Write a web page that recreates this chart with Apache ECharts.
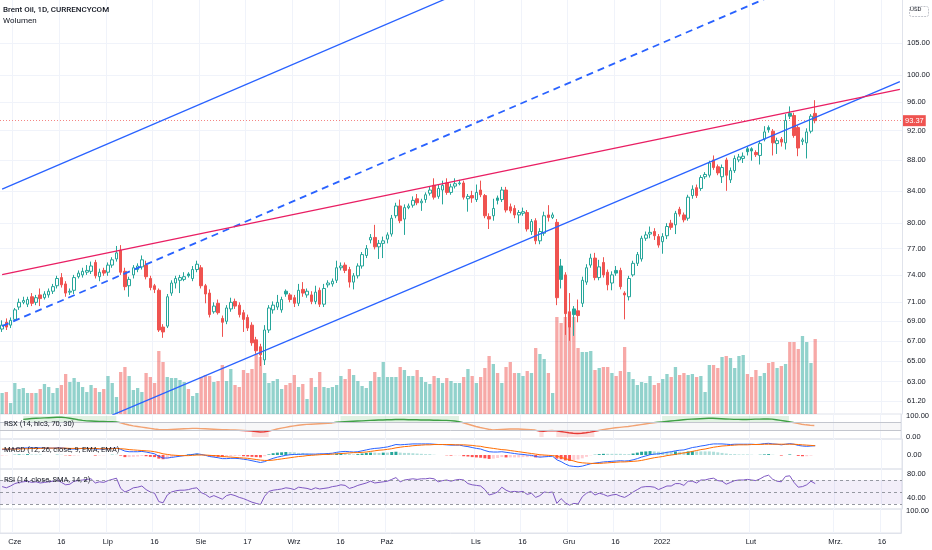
<!DOCTYPE html>
<html><head><meta charset="utf-8">
<script src="https://cdn.jsdelivr.net/npm/echarts@6.0.0/dist/echarts.min.js"></script>
<style>html,body{margin:0;padding:0;background:#fff}#c{width:932px;height:550px}</style>
</head><body><div id="c"></div>
<script>
// ---------- DATA ----------
const firstDay = '2021-05-27';
const skippedDays = ['2021-12-24'];
const categoryCount = 213;

const tickDates = ['2021-06-01','2021-06-16','2021-07-01','2021-07-16','2021-08-02','2021-08-17','2021-09-01','2021-09-16','2021-10-01','2021-11-01','2021-11-16','2021-12-01','2021-12-16','2022-01-03','2022-02-01','2022-03-01','2022-03-16'];
const tickTexts = ['Cze','16','Lip','16','Sie','17','Wrz','16','Paź','Lis','16','Gru','16','2022','Lut','Mrz.','16'];

const priceTicks = [105,100,96,92,88,84,80,77,74,71,69,67,65,63,61.2];
const lastPrice = 93.37;

const opens = [
68.2,68.9,68.6,69.2,70.5,71.0,70.8,71.6,71.0,71.8,
71.5,71.8,72.2,72.8,73.7,73.0,72.1,72.3,73.8,74.0,
74.3,74.4,75.4,73.8,74.5,74.3,75.1,75.8,76.8,74.4,
72.8,74.0,74.6,74.9,75.1,73.6,72.8,72.3,68.4,68.5,
72.0,73.1,73.4,73.5,74.1,73.6,74.6,74.8,72.8,72.0,
70.0,70.9,69.3,69.0,70.3,71.1,70.7,69.9,69.4,68.6,
67.1,66.4,65.1,68.1,70.2,70.5,70.2,72.2,71.8,71.5,
70.9,72.4,71.8,71.8,71.1,72.3,70.8,72.9,73.0,73.4,
74.8,75.1,74.6,73.2,73.9,75.0,76.2,78.0,78.3,77.2,
77.6,78.1,78.7,80.9,82.1,80.5,81.9,82.2,83.0,82.5,
82.9,83.7,84.7,83.3,84.1,85.0,83.8,84.6,84.9,85.0,
83.0,83.4,82.9,84.1,83.4,80.8,80.9,83.1,82.9,84.1,
82.0,81.8,81.0,81.2,81.3,79.0,80.3,77.9,78.8,81.0,
80.7,80.1,75.0,74.0,70.0,70.3,70.1,70.9,73.2,75.1,
75.9,73.7,75.4,74.3,73.1,74.5,74.5,72.0,71.6,74.0,
75.3,75.8,78.2,78.7,79.0,78.4,77.8,78.5,80.0,79.8,
81.7,81.0,80.6,83.4,84.4,84.3,85.8,86.0,88.0,87.1,
85.8,88.0,85.4,86.6,88.0,88.2,89.5,89.5,89.0,88.6,
90.8,92.4,91.9,90.2,90.8,90.3,94.4,94.1,92.4,90.5,
90.3,91.9,94.4];
const highs = [
69.1,69.3,69.4,70.4,71.4,71.6,71.6,72.0,71.8,72.5,
72.2,72.5,73.0,73.9,74.2,73.3,72.5,74.0,74.5,74.8,
75.1,75.5,75.7,74.7,74.8,75.4,76.0,77.3,77.4,74.8,
73.8,75.1,75.3,76.2,75.6,73.9,73.0,72.5,68.7,71.9,
73.4,73.9,74.0,74.3,74.3,75.0,75.6,75.1,73.0,72.4,
71.0,71.3,69.6,70.7,71.5,71.4,71.0,70.2,69.7,68.9,
67.4,66.7,68.6,70.7,71.1,71.8,71.6,72.4,72.0,71.8,
73.0,73.2,72.5,72.2,72.8,72.6,73.0,73.4,73.6,75.6,
75.4,75.4,74.9,74.2,75.3,76.6,77.4,78.7,79.8,78.0,
78.4,78.9,81.0,82.5,82.9,82.3,82.4,83.3,83.6,83.0,
83.8,84.6,85.6,84.8,85.3,85.6,84.9,85.6,85.4,85.3,
83.6,84.0,84.8,85.3,83.6,81.2,83.0,83.4,84.5,84.5,
82.4,82.2,81.6,81.9,81.6,80.5,80.6,79.4,81.4,82.2,
81.3,80.5,75.8,74.3,72.0,70.6,71.3,73.8,75.2,76.4,
76.5,75.7,76.0,74.6,74.4,75.0,74.8,72.2,73.9,75.6,
76.6,78.5,79.0,79.6,79.4,78.7,78.8,80.0,80.4,81.5,
82.0,81.3,83.5,84.7,84.8,86.0,86.4,87.9,88.6,87.4,
87.4,88.3,87.0,88.6,88.8,89.0,89.8,89.7,89.3,90.6,
92.6,92.7,92.2,91.0,91.1,94.3,95.4,94.5,92.7,91.0,
92.3,94.3,96.3];
const lows = [
67.9,68.1,68.3,69.0,70.2,70.8,70.5,70.6,70.7,70.6,
71.3,71.5,71.9,72.5,72.6,71.6,71.8,71.9,73.6,73.7,
74.0,74.1,73.6,73.3,73.9,73.9,74.8,75.5,74.0,72.3,
71.6,73.6,74.3,74.6,73.5,72.3,72.0,67.9,67.3,68.3,
71.7,72.5,72.0,73.3,73.7,73.3,74.3,72.5,70.9,69.4,
69.8,69.7,67.4,68.7,70.0,70.3,69.4,67.9,68.0,66.5,
65.7,64.5,64.6,67.8,69.8,70.2,69.9,71.6,71.0,70.5,
70.6,71.6,71.5,70.8,70.8,70.5,70.5,72.6,72.7,73.1,
74.5,74.2,72.6,72.4,73.6,74.7,75.9,77.6,76.9,75.8,
75.9,77.6,78.4,80.6,80.0,78.6,81.7,81.9,82.2,81.5,
82.5,83.4,82.9,83.0,82.3,83.5,83.5,84.3,84.7,82.9,
81.4,82.5,82.6,83.2,80.6,79.3,80.3,82.3,82.6,81.3,
81.2,80.6,80.0,80.9,79.0,78.6,77.5,77.5,78.5,80.2,
80.5,70.7,72.5,67.6,67.0,67.5,68.9,70.5,72.9,74.8,
73.4,73.4,73.7,72.3,72.3,73.9,72.4,69.2,71.2,73.8,
75.0,75.5,77.9,78.2,78.0,77.1,76.4,78.1,79.2,78.7,
80.8,80.1,80.3,83.0,83.1,84.0,85.5,85.7,86.7,86.0,
85.0,84.0,85.0,86.3,87.7,87.6,88.6,87.9,88.4,87.4,
90.5,91.7,88.6,88.8,89.8,89.4,93.6,91.0,88.5,90.0,
88.2,91.6,93.0];
const closes = [
68.6,68.4,69.1,70.2,71.0,71.2,71.3,70.9,71.5,71.4,
71.9,72.2,72.7,73.6,72.9,72.0,72.2,73.7,74.2,74.4,
74.5,75.0,73.9,74.3,74.2,75.1,75.7,76.5,74.3,72.7,
73.5,74.8,75.0,75.7,73.8,72.6,72.4,68.1,67.9,71.6,
73.1,73.6,73.7,73.8,73.9,74.6,75.2,72.8,71.9,69.7,
70.6,69.9,68.9,70.4,71.0,70.6,69.7,69.2,68.3,66.8,
66.0,65.6,68.1,70.4,70.7,71.0,71.3,71.9,71.3,70.9,
72.3,72.0,72.2,71.1,72.1,70.8,72.5,73.1,73.3,74.8,
75.0,74.5,73.2,73.9,75.0,76.3,77.0,78.3,77.2,77.6,
77.9,78.6,80.6,82.1,80.3,81.9,82.1,82.8,82.5,82.7,
83.5,84.1,83.2,84.3,84.7,83.8,84.5,84.9,85.0,83.2,
83.3,83.1,83.8,83.5,80.9,80.5,81.8,82.8,84.1,81.6,
81.5,81.0,81.3,81.4,79.3,80.2,77.9,79.0,80.9,80.7,
81.0,71.5,73.5,69.8,68.4,69.7,69.6,73.4,74.8,75.9,
73.7,74.9,74.0,72.9,74.0,74.2,72.7,71.8,73.6,75.3,
76.3,78.2,78.6,78.9,78.5,77.4,78.4,79.6,79.5,81.2,
81.1,80.4,83.2,84.2,83.4,85.7,86.1,87.6,87.0,86.3,
87.0,86.0,86.6,88.2,88.4,88.5,89.1,89.2,88.7,90.2,
91.8,92.1,90.3,90.6,90.4,93.4,94.0,91.3,89.6,90.7,
91.8,94.0,93.37];
const volumes = [
21,22,11,31,25,26,21,21,21,25,
30,27,21,26,29,40,32,36,32,27,
22,29,26,22,25,38,31,17,42,47,
38,24,26,22,41,37,31,63,52,37,
36,36,34,32,25,18,21,37,39,38,
32,33,49,33,45,29,27,44,41,45,
60,57,41,31,33,35,25,29,31,39,
27,30,15,36,27,42,27,26,27,29,
38,35,45,39,33,28,26,33,42,37,
52,37,37,37,47,44,38,38,44,37,
32,30,38,36,31,36,33,31,31,37,
45,38,31,37,46,58,50,41,31,47,
52,41,41,38,43,41,66,60,55,41,
21,97,91,97,87,97,66,62,62,63,
44,46,47,47,41,38,43,67,42,35,
29,32,31,38,29,31,35,40,37,47,
39,41,39,40,37,38,22,49,49,46,
57,58,56,46,58,59,40,37,44,38,
41,51,52,46,48,50,72,72,65,78,
72,51,75];

// trend lines: [bar index, price] end points
const upperChannelLine = [[0,84.21],[110,113.82]];
const middleDashedLine = [[0,68.50],[185,113.70]];
const lowerChannelLine = [[26,59.90],[212,99.03]];
const resistanceLine = [[0,74.04],[212,97.87]];

const rsxValues = [
null,null,null,null,null,84,86,88,89,90,
91,92,93,94,94,92,89,86,82,79,
77,76,75,74,74,73,73,72,68,62,
57,53,50,47,44,41,38,36,35,35,
36,37,38,39,40,41,41,40,39,38,
37,36,35,35,34,33,32,31,30,28,
26,24,25,28,33,38,42,46,50,53,
56,58,60,61,62,63,64,65,67,70,
72,73,74,75,76,77,78,79,80,81,
81,82,82,83,83,83,82,82,82,81,
81,81,80,80,79,79,78,76,73,68,
62,56,50,45,41,37,34,35,36,37,
38,38,38,37,36,35,33,28,27,30,
31,29,26,23,20,18,17,18,20,23,
27,31,35,38,41,44,46,48,50,53,
56,59,62,65,68,70,72,74,76,78,
80,82,84,85,86,87,88,89,89,88,
87,86,85,84,84,83,83,84,85,85,
86,86,85,82,79,76,73,69,65,61,
58,56,55];
const macdValues = [
0.9,0.95,1.0,1.05,1.1,1.15,1.2,1.2,1.2,1.2,
1.15,1.15,1.15,1.2,1.2,1.1,1.0,1.0,1.05,1.1,
1.1,1.1,1.0,1.0,1.0,1.05,1.1,1.15,0.95,0.65,
0.55,0.55,0.55,0.6,0.5,0.35,0.2,-0.2,-0.5,-0.5,
-0.4,-0.3,-0.2,-0.1,0.0,0.1,0.2,0.1,-0.05,-0.25,
-0.35,-0.45,-0.6,-0.6,-0.55,-0.55,-0.6,-0.7,-0.8,-0.95,
-1.1,-1.25,-1.1,-0.8,-0.55,-0.35,-0.2,-0.05,0.05,0.1,
0.1,0.15,0.15,0.15,0.15,0.2,0.2,0.25,0.3,0.45,
0.55,0.6,0.55,0.5,0.55,0.7,0.85,1.0,1.1,1.15,
1.25,1.35,1.55,1.75,1.7,1.75,1.8,1.85,1.85,1.85,
1.85,1.85,1.8,1.75,1.75,1.7,1.65,1.65,1.65,1.5,
1.4,1.25,1.1,1.0,0.75,0.55,0.5,0.5,0.55,0.45,
0.35,0.25,0.15,0.1,0.0,-0.05,-0.25,-0.35,-0.3,-0.25,
-0.2,-0.8,-1.1,-1.5,-1.8,-1.9,-1.95,-1.85,-1.65,-1.45,
-1.35,-1.25,-1.15,-1.1,-1.05,-1.0,-0.95,-1.0,-0.95,-0.8,
-0.6,-0.35,-0.15,0.05,0.15,0.2,0.3,0.45,0.55,0.7,
0.8,0.85,1.05,1.25,1.35,1.5,1.6,1.75,1.85,1.85,
1.85,1.8,1.75,1.8,1.8,1.8,1.8,1.8,1.75,1.8,
1.9,1.95,1.85,1.8,1.7,1.8,1.9,1.8,1.6,1.5,
1.45,1.5,1.55];
const signalValues = [
1.0,1.0,1.0,1.0,1.0,1.05,1.05,1.1,1.1,1.1,
1.15,1.15,1.15,1.15,1.15,1.15,1.1,1.1,1.1,1.1,
1.1,1.1,1.1,1.05,1.05,1.05,1.05,1.1,1.05,1.0,
0.9,0.85,0.8,0.75,0.7,0.65,0.55,0.4,0.2,0.1,
0.0,-0.05,-0.1,-0.1,-0.1,-0.05,0.0,0.0,0.0,-0.05,
-0.1,-0.15,-0.25,-0.3,-0.35,-0.4,-0.45,-0.5,-0.55,-0.65,
-0.75,-0.85,-0.9,-0.9,-0.85,-0.75,-0.65,-0.55,-0.45,-0.35,
-0.25,-0.2,-0.1,-0.05,0.0,0.05,0.1,0.1,0.15,0.2,
0.25,0.3,0.35,0.4,0.4,0.45,0.5,0.6,0.7,0.8,
0.85,0.95,1.05,1.2,1.3,1.4,1.45,1.55,1.6,1.65,
1.7,1.7,1.75,1.75,1.75,1.75,1.75,1.7,1.7,1.7,
1.65,1.6,1.5,1.45,1.3,1.2,1.1,1.0,0.9,0.85,
0.75,0.65,0.55,0.45,0.35,0.25,0.15,0.05,0.0,-0.05,
-0.1,-0.2,-0.4,-0.6,-0.8,-1.0,-1.2,-1.3,-1.35,-1.4,
-1.4,-1.4,-1.35,-1.3,-1.25,-1.2,-1.15,-1.15,-1.1,-1.05,
-1.0,-0.9,-0.75,-0.6,-0.45,-0.35,-0.25,-0.1,0.0,0.1,
0.25,0.35,0.45,0.6,0.75,0.9,1.0,1.15,1.3,1.4,
1.5,1.55,1.6,1.65,1.7,1.7,1.7,1.75,1.75,1.75,
1.8,1.8,1.8,1.8,1.8,1.8,1.8,1.8,1.75,1.7,
1.65,1.6,1.55];
const histValues = [
-0.1,-0.05,0,0.05,0.1,0.1,0.15,0.1,0.1,0.1,
0,0,0,0.05,0.05,-0.05,-0.1,-0.1,-0.05,0,
0,0,-0.1,-0.05,-0.05,0,0.05,0.05,-0.1,-0.35,
-0.35,-0.3,-0.25,-0.15,-0.2,-0.3,-0.35,-0.6,-0.7,-0.6,
-0.4,-0.25,-0.1,0,0.1,0.15,0.2,0.1,-0.05,-0.2,
-0.25,-0.3,-0.35,-0.3,-0.2,-0.15,-0.15,-0.2,-0.25,-0.3,
-0.35,-0.4,-0.2,0.1,0.3,0.4,0.45,0.5,0.5,0.45,
0.35,0.35,0.25,0.2,0.15,0.15,0.1,0.15,0.15,0.25,
0.3,0.3,0.2,0.1,0.15,0.25,0.35,0.4,0.4,0.35,
0.4,0.4,0.5,0.55,0.4,0.35,0.35,0.3,0.25,0.2,
0.15,0.15,0.05,0,0,-0.05,-0.1,-0.05,-0.05,-0.2,
-0.25,-0.35,-0.4,-0.45,-0.55,-0.65,-0.6,-0.5,-0.35,-0.4,
-0.4,-0.4,-0.4,-0.35,-0.35,-0.3,-0.4,-0.4,-0.3,-0.2,
-0.1,-0.6,-0.7,-0.9,-1.0,-0.9,-0.75,-0.55,-0.3,-0.05,
0.05,0.15,0.2,0.2,0.2,0.2,0.2,0.15,0.15,0.25,
0.4,0.55,0.6,0.65,0.6,0.55,0.55,0.55,0.55,0.6,
0.55,0.5,0.6,0.65,0.6,0.6,0.6,0.6,0.55,0.45,
0.35,0.25,0.15,0.15,0.1,0.1,0.1,0.05,0,0.05,
0.1,0.15,0.05,0,-0.1,0,0.1,0,-0.15,-0.2,
-0.2,-0.1,0];
const rsiValues = [
59,57,60,64,66,67,68,66,67,65,
66,67,68,70,66,62,63,68,69,70,
71,72,65,67,66,69,71,73,56,50,
53,57,58,60,54,50,48,34,32,45,
50,52,53,53,54,56,57,49,46,41,
44,41,38,44,46,44,41,39,36,33,
31,29,43,51,53,54,55,57,56,54,
58,57,56,54,57,55,56,57,59,60,
62,61,56,58,61,63,65,68,65,66,
67,68,71,74,67,70,71,72,71,72,
72,73,72,67,69,70,68,70,71,70,
64,62,61,60,54,45,47,50,58,53,
50,51,50,51,46,48,41,44,50,49,
50,31,39,32,28,31,30,42,48,51,
45,48,46,43,45,46,43,41,45,50,
54,58,59,59,58,54,57,60,60,64,
64,61,68,68,65,70,70,72,73,69,
68,63,66,69,70,70,71,70,69,72,
76,78,71,68,67,76,77,66,58,59,
62,68,64];

// ---------- BUILD ----------
const FONT = 'Liberation Sans, Arial, sans-serif';
const LFONT = 'Roboto, "Liberation Sans", sans-serif';
const TXT = '#131722';
const GREEN = '#26a69a', RED = '#ef5350';
const GRIDLINE = '#f0f3fa';
const BORDER = '#e0e3eb';

function buildDates() {
  const out = [];
  const p = firstDay.split('-').map(Number);
  const d = new Date(Date.UTC(p[0], p[1] - 1, p[2]));
  while (out.length < categoryCount) {
    const s = d.toISOString().slice(0, 10);
    const wd = d.getUTCDay();
    if (wd !== 0 && wd !== 6 && skippedDays.indexOf(s) < 0) out.push(s);
    d.setUTCDate(d.getUTCDate() + 1);
  }
  return out;
}
const dates = buildDates();
const tickMap = {};
tickDates.forEach((d, i) => { tickMap[d] = tickTexts[i]; });
const isTick = (idx, val) => tickMap[val] !== undefined;

const candleData = opens.map((o, i) => {
  const c = closes[i];
  const prev = i > 0 ? closes[i - 1] : o;
  const col = c >= prev ? GREEN : RED;
  const fill = c >= o ? '#ffffff' : col;
  return { value: [o, c, lows[i], highs[i]],
    itemStyle: { color: fill, color0: fill, borderColor: col, borderColor0: col } };
});
const volumeData = volumes.map((v, i) => ({ value: v,
  itemStyle: { color: closes[i] >= opens[i] ? 'rgba(38,166,154,0.5)' : 'rgba(239,83,80,0.5)' } }));
const histData = histValues.map((h, i) => {
  const prev = i > 0 ? histValues[i - 1] : h;
  let col;
  if (h >= 0) col = h > prev ? '#26a69a' : '#b2dfdb';
  else col = h < prev ? '#ff5252' : '#ffcdd2';
  return { value: h, itemStyle: { color: col } };
});

function runs(values, test) {
  const out = []; let s = -1;
  values.forEach((v, i) => {
    const ok = v != null && test(v);
    if (ok && s < 0) s = i;
    if (!ok && s >= 0) { out.push([s, i - 1]); s = -1; }
  });
  if (s >= 0) out.push([s, values.length - 1]);
  return out;
}
const obAreas = runs(rsxValues, v => v > 70).map(r => [{ xAxis: r[0], yAxis: 70, itemStyle: { color: 'rgba(76,175,80,0.16)' } }, { xAxis: r[1], yAxis: 100 }]);
const osAreas = runs(rsxValues, v => v < 30).map(r => [{ xAxis: r[0], yAxis: 0, itemStyle: { color: 'rgba(239,83,80,0.18)' } }, { xAxis: r[1], yAxis: 30 }]);

const panes = [
  { top: 0, height: 414 },    // price + volume
  { top: 414, height: 25 },   // RSX
  { top: 439, height: 30 },   // MACD
  { top: 469, height: 40 },   // RSI
  { top: 509, height: 24 }    // empty pane + time axis
];
const grids = panes.map((p, i) => ({ left: 0, right: 30, top: p.top, height: p.height,
  show: i > 0, borderColor: BORDER, borderWidth: 1, backgroundColor: 'transparent', containLabel: false }));

const xAxes = panes.map((p, i) => ({
  type: 'category', gridIndex: i, data: dates, boundaryGap: true,
  axisLine: { show: i === 4, lineStyle: { color: BORDER } },
  axisTick: { show: false },
  axisLabel: i === 4 ? { show: true, interval: isTick, formatter: v => tickMap[v] || '', color: TXT, fontSize: 7.5, fontFamily: FONT, margin: 5 } : { show: false },
  splitLine: { show: true, interval: isTick, lineStyle: { color: GRIDLINE, width: 1 } }
}));

const lblStyle = { color: TXT, fontSize: 7.5, fontFamily: FONT, margin: 5, formatter: v => Number(v).toFixed(2) };
function paneAxis(gi, min, max, vals) {
  return { type: 'value', gridIndex: gi, min: min, max: max, position: 'right',
    axisLine: { show: true, lineStyle: { color: BORDER } }, axisTick: { show: false },
    axisLabel: Object.assign({ customValues: vals }, lblStyle), splitLine: { show: false } };
}
const yAxes = [
  { type: 'log', logBase: 10, gridIndex: 0, min: 60, max: 112, position: 'right',
    axisLine: { show: true, lineStyle: { color: BORDER } }, axisTick: { show: false },
    axisLabel: { show: false }, splitLine: { show: false } },
  { type: 'value', gridIndex: 0, min: 0, max: 414, show: false, splitLine: { show: false } },
  paneAxis(1, -9.5, 109.5, [0, 100]),
  paneAxis(2, -2.33, 2.67, [0]),
  paneAxis(3, 21.67, 88.33, [80, 40]),
  paneAxis(4, 0, 110, [100])
];

function trend(points, color, type, width) {
  return { type: 'line', xAxisIndex: 0, yAxisIndex: 0, data: points, showSymbol: false, symbol: 'none',
    clip: true, silent: true, z: 5, lineStyle: { color: color, width: width, type: type } };
}

const priceMarks = priceTicks.map(v => ({ yAxis: v }));
priceMarks.push({ yAxis: lastPrice,
  lineStyle: { color: 'rgba(239,83,80,0.7)', type: [1, 2], width: 1 },
  label: { show: true, position: 'end', distance: 1, formatter: () => lastPrice.toFixed(2), color: '#ffffff',
    backgroundColor: '#ef5350', padding: [2, 2, 1, 2], fontSize: 7.5, fontFamily: FONT } });

const series = [
  { type: 'bar', name: 'Wolumen', xAxisIndex: 0, yAxisIndex: 1, data: volumeData, barWidth: '78%', z: 1, silent: true },
  { type: 'candlestick', name: 'Brent', xAxisIndex: 0, yAxisIndex: 0, data: candleData, barWidth: 3, z: 3, silent: true,
    itemStyle: { borderWidth: 1 },
    markLine: { silent: true, symbol: ['none', 'none'], animation: false, z: 0,
      lineStyle: { color: GRIDLINE, width: 1, type: 'solid' },
      label: { show: true, position: 'end', distance: 5, formatter: p => Number(p.value).toFixed(2), color: TXT, fontSize: 7.5, fontFamily: FONT },
      data: priceMarks } },
  trend(upperChannelLine, '#2962ff', 'solid', 1.3),
  trend(middleDashedLine, '#2962ff', [7, 5], 1.8),
  trend(lowerChannelLine, '#2962ff', 'solid', 1.3),
  trend(resistanceLine, '#e91e63', 'solid', 1.3),
  { type: 'line', name: 'RSX', xAxisIndex: 1, yAxisIndex: 2, data: rsxValues, showSymbol: false, symbol: 'none', silent: true,
    lineStyle: { width: 1.4 }, z: 4,
    markLine: { silent: true, symbol: ['none', 'none'], label: { show: false },
      lineStyle: { color: '#c3c6ce', width: 1, type: 'solid' }, data: [{ yAxis: 70 }, { yAxis: 30 }] },
    markArea: { silent: true, itemStyle: { color: 'rgba(200,202,210,0.15)' },
      data: [[{ yAxis: 30 }, { yAxis: 70 }]].concat(obAreas, osAreas) } },
  { type: 'bar', name: 'Histogram', xAxisIndex: 2, yAxisIndex: 3, data: histData, barWidth: '70%', silent: true },
  { type: 'line', name: 'MACD', xAxisIndex: 2, yAxisIndex: 3, data: macdValues, showSymbol: false, symbol: 'none', silent: true,
    lineStyle: { color: '#2962ff', width: 1 } },
  { type: 'line', name: 'Signal', xAxisIndex: 2, yAxisIndex: 3, data: signalValues, showSymbol: false, symbol: 'none', silent: true,
    lineStyle: { color: '#ff6d00', width: 1 } },
  { type: 'line', name: 'RSI', xAxisIndex: 3, yAxisIndex: 4, data: rsiValues, showSymbol: false, symbol: 'none', silent: true,
    lineStyle: { color: '#7e57c2', width: 1 },
    markLine: { silent: true, symbol: ['none', 'none'], label: { show: false },
      lineStyle: { color: '#9598a1', width: 1, type: [3, 3] }, data: [{ yAxis: 70 }, { yAxis: 50 }, { yAxis: 30 }] },
    markArea: { silent: true, itemStyle: { color: 'rgba(126,87,194,0.1)' }, data: [[{ yAxis: 30 }, { yAxis: 70 }]] } },
  { type: 'line', xAxisIndex: 4, yAxisIndex: 5, data: [], silent: true }
];

function label(text, x, y, size, weight) {
  return { type: 'text', left: x, top: y, silent: true, z: 100,
    style: { text: text, fill: TXT, fontSize: size, fontFamily: LFONT, fontWeight: weight || 'normal' } };
}

const chart = echarts.init(document.getElementById('c'), null, { renderer: 'canvas' });
chart.setOption({
  animation: false,
  backgroundColor: '#ffffff',
  grid: grids,
  xAxis: xAxes,
  yAxis: yAxes,
  visualMap: [{ type: 'piecewise', show: false, seriesIndex: 6, dimension: 1,
    pieces: [{ lt: 30, color: '#e53935' }, { gte: 30, lte: 70, color: '#f2a272' }, { gt: 70, color: '#3fa045' }] }],
  series: series,
  graphic: [
    label('Brent Oil, 1D, CURRENCYCOM', 3, 6, 8, 500),
    label('Wolumen', 3, 17, 8),
    label('RSX (14, hlc3, 70, 30)', 4, 420, 7.5),
    label('MACD (12, 26, close, 9, EMA, EMA)', 4, 446, 7.5),
    label('RSI (14, close, SMA, 14, 2)', 4, 476, 7.5),
    { type: 'rect', left: 907, top: 4, silent: true, shape: { width: 19, height: 10, r: 2 },
      style: { fill: 'none', stroke: '#b2b5be', lineWidth: 0.8, lineDash: [2, 1] } },
    { type: 'text', left: 910, top: 6, silent: true, style: { text: 'USD', fill: TXT, fontSize: 6, fontFamily: LFONT } }
  ]
});
</script>
</body></html>
